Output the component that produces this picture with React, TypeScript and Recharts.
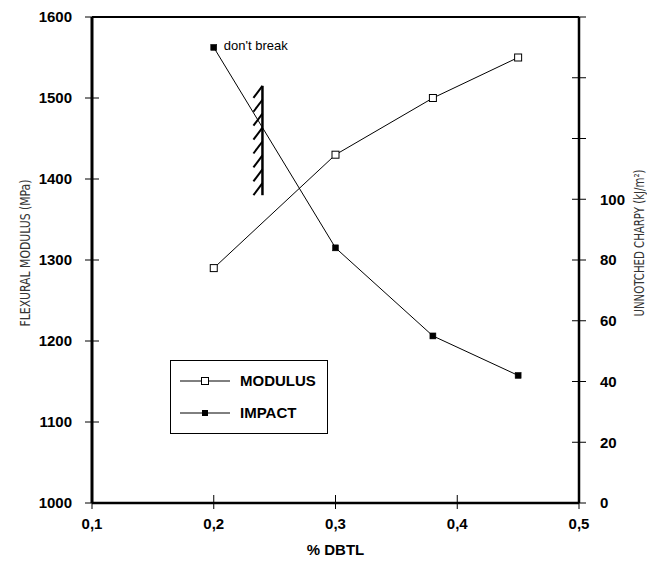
import React from 'react';
import { LineChart, Line, XAxis, YAxis, ReferenceLine, Legend, Label } from 'recharts';

// ---- data ----
const dbtl = [0.2, 0.3, 0.38, 0.45];
const modulus = [1290, 1430, 1500, 1550];
const impact = [150, 84, 55, 42];
const xTicks = [0.1, 0.2, 0.3, 0.4, 0.5];
const leftTicks = [1000, 1100, 1200, 1300, 1400, 1500, 1600];
const rightTicks = [0, 20, 40, 60, 80, 100, 120, 140, 160];
const rightLabelMax = 100;
const legendOrder = ['modulus', 'impact'];
const noBreakLabel = "don't break";
const hatchX = 0.24;
const hatchTop = 1515;
const hatchBottom = 1380;

const data = dbtl.map((x, i) => ({ x, modulus: modulus[i], impact: impact[i] }));

const FONT = "'Liberation Sans', Arial, sans-serif";
const NARROW = "'DejaVu Sans', sans-serif";
const TS = 8;
const TM_L = 12;
const TM_R = 13;
const TM_B = 12;

const LeftTick = (props: any) => {
  const { x, y, payload } = props;
  const ax = x + TS + TM_L;
  return (
    <g>
      <line x1={ax - 7} x2={ax + 7} y1={y} y2={y} stroke="#000" strokeWidth={1} />
      <text x={x} y={y} dy="0.35em" textAnchor="end" fontFamily={FONT} fontWeight="bold" fontSize={15} fill="#000">
        {payload.value}
      </text>
    </g>
  );
};

const RightTick = (props: any) => {
  const { x, y, payload } = props;
  const ax = x - TS - TM_R;
  return (
    <g>
      <line x1={ax - 7} x2={ax + 7} y1={y} y2={y} stroke="#000" strokeWidth={1} />
      {payload.value <= rightLabelMax && (
        <text x={x} y={y} dy="0.35em" textAnchor="start" fontFamily={FONT} fontWeight="bold" fontSize={15} fill="#000">
          {payload.value}
        </text>
      )}
    </g>
  );
};

const BottomTick = (props: any) => {
  const { x, y, payload } = props;
  const ay = y - TS - TM_B;
  return (
    <g>
      <line x1={x} x2={x} y1={ay - 8} y2={ay + 6} stroke="#000" strokeWidth={1} />
      <text x={x} y={ay + 21} dy="0.35em" textAnchor="middle" fontFamily={FONT} fontWeight="bold" fontSize={15} fill="#000">
        {String(payload.value).replace('.', ',')}
      </text>
    </g>
  );
};

const LeftTitle = (props: any) => {
  const { x, y, height } = props.viewBox;
  const cx = x + 25;
  const cy = y + height / 2 - 7;
  return (
    <text x={cx} y={cy} transform={`rotate(-90 ${cx} ${cy})`} textAnchor="middle" dominantBaseline="central"
      fontFamily={NARROW} fontStretch="condensed" fontSize={14} fill="#333" textLength={147} lengthAdjust="spacingAndGlyphs">
      FLEXURAL MODULUS (MPa)
    </text>
  );
};

const RightTitle = (props: any) => {
  const { x, y, height } = props.viewBox;
  const cx = x + 60;
  const cy = y + height / 2 - 17;
  return (
    <text x={cx} y={cy} transform={`rotate(-90 ${cx} ${cy})`} textAnchor="middle" dominantBaseline="central"
      fontFamily={NARROW} fontStretch="condensed" fontSize={14} fill="#333" textLength={147} lengthAdjust="spacingAndGlyphs">
      UNNOTCHED CHARPY (kJ/m²)
    </text>
  );
};

const BottomTitle = (props: any) => {
  const { x, y, width } = props.viewBox;
  return (
    <text x={x + width / 2} y={y + 47} dy="0.35em" textAnchor="middle" fontFamily={FONT} fontWeight="bold" fontSize={15} fill="#000">
      % DBTL
    </text>
  );
};

const OpenDot = (props: any) => {
  const { cx, cy, index } = props;
  return <rect key={`o-${index}`} x={cx - 3.5} y={cy - 3.5} width={7} height={7} fill="#fff" stroke="#000" strokeWidth={1} />;
};

const FilledDot = (props: any) => {
  const { cx, cy, index } = props;
  return <rect key={`f-${index}`} x={cx - 3} y={cy - 3} width={6} height={6} fill="#000" stroke="#000" strokeWidth={0.5} />;
};

const NoBreak = (props: any) => {
  const { x, y, index } = props;
  if (index !== 0) return null;
  return (
    <text key="nb" x={x + 10} y={y - 2} dy="0.35em" fontFamily={FONT} fontSize={13} fill="#000">
      {noBreakLabel}
    </text>
  );
};

const HatchShape = (props: any) => {
  const { x1, y1, y2 } = props;
  const top = Math.min(y1, y2);
  const bottom = Math.max(y1, y2);
  const n = 8;
  const step = (bottom - top - 12) / (n - 1);
  const marks = [];
  for (let i = 0; i < n; i++) {
    const yy = top + i * step;
    marks.push(<path key={i} d={`M${x1},${yy} L${x1 - 9},${yy + 12}`} stroke="#000" strokeWidth={2} fill="none" />);
  }
  return (
    <g>
      <line x1={x1} x2={x1} y1={top} y2={bottom} stroke="#000" strokeWidth={2.5} />
      {marks}
    </g>
  );
};

const LegendBox = (props: any) => {
  const payload = [...(props.payload || [])].sort(
    (a: any, b: any) => legendOrder.indexOf(a.dataKey) - legendOrder.indexOf(b.dataKey)
  );
  return (
    <svg width={158} height={74} style={{ display: 'block' }}>
      <rect x={0.5} y={0.5} width={157} height={73} fill="#fff" stroke="#000" strokeWidth={1} />
      {payload.map((entry: any, i: number) => {
        const yy = 21 + i * 32;
        const filled = entry.dataKey === 'impact';
        return (
          <g key={i}>
            <line x1={10} x2={60} y1={yy} y2={yy} stroke="#000" strokeWidth={1} />
            {filled ? (
              <rect x={32} y={yy - 3} width={6} height={6} fill="#000" />
            ) : (
              <rect x={31.5} y={yy - 3.5} width={7} height={7} fill="#fff" stroke="#000" />
            )}
            <text x={70} y={yy} dy="0.35em" fontFamily={FONT} fontWeight="bold" fontSize={15} fill="#000">
              {entry.value}
            </text>
          </g>
        );
      })}
    </svg>
  );
};

export default function App() {
  return (
    <div style={{ position: 'absolute', left: 0, top: 0, background: '#fff' }}>
      <LineChart width={647} height={568} data={data} margin={{ top: 17, right: 0, bottom: 0, left: 0 }}>
        <XAxis dataKey="x" type="number" domain={[0.1, 0.5]} ticks={xTicks} height={65}
          axisLine={{ stroke: '#000', strokeWidth: 2.5 }} tickLine={false} tickSize={TS} tickMargin={TM_B}
          tick={<BottomTick />} interval={0}>
          <Label content={<BottomTitle />} />
        </XAxis>
        <YAxis yAxisId="left" orientation="left" domain={[1000, 1600]} ticks={leftTicks} width={92}
          axisLine={{ stroke: '#000', strokeWidth: 3 }} tickLine={false} tickSize={TS} tickMargin={TM_L}
          tick={<LeftTick />} interval={0}>
          <Label content={<LeftTitle />} />
        </YAxis>
        <YAxis yAxisId="right" orientation="right" domain={[0, 160]} ticks={rightTicks} width={68}
          axisLine={{ stroke: '#000', strokeWidth: 2.5 }} tickLine={false} tickSize={TS} tickMargin={TM_R}
          tick={<RightTick />} interval={0}>
          <Label content={<RightTitle />} />
        </YAxis>
        <ReferenceLine yAxisId="left" y={1600} stroke="#000" strokeWidth={2} />
        <ReferenceLine yAxisId="left" segment={[{ x: hatchX, y: hatchTop }, { x: hatchX, y: hatchBottom }]}
          shape={(p: any) => <HatchShape {...p} />} />
        <Line yAxisId="left" dataKey="modulus" name="MODULUS" stroke="#000" strokeWidth={1}
          dot={(p: any) => <OpenDot {...p} />} isAnimationActive={false} />
        <Line yAxisId="right" dataKey="impact" name="IMPACT" stroke="#000" strokeWidth={1}
          dot={(p: any) => <FilledDot {...p} />} label={(p: any) => <NoBreak {...p} />} isAnimationActive={false} />
        <Legend layout="horizontal" align="center" verticalAlign="middle" content={<LegendBox />}
          wrapperStyle={{ position: 'absolute', left: 170, top: 360, width: 158, height: 74 }} />
      </LineChart>
    </div>
  );
}
